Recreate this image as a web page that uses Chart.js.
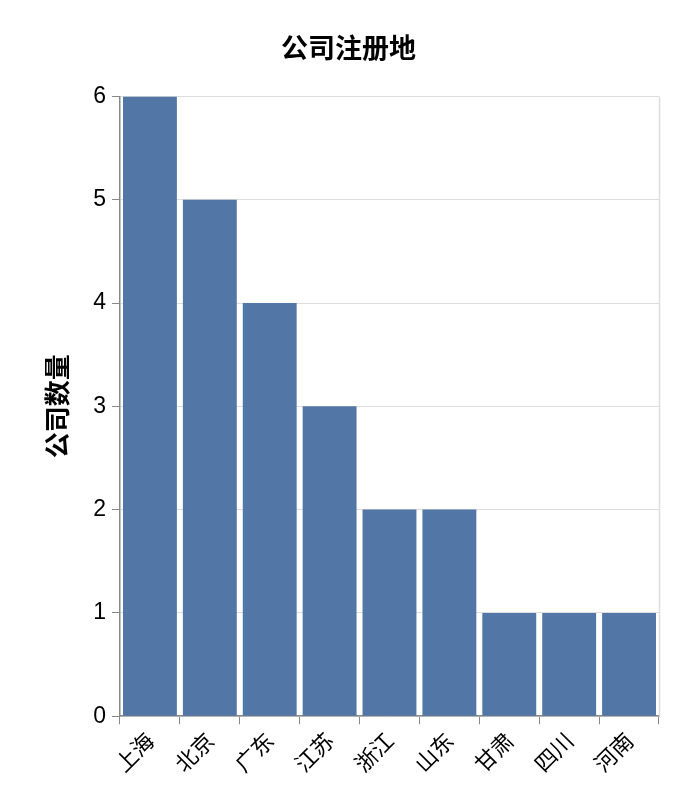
<!DOCTYPE html>
<html><head><meta charset="utf-8">
<script src="https://cdn.jsdelivr.net/npm/chart.js@4"></script>
<style>html,body{margin:0;padding:0;background:#fff}#w{width:684px;height:794px}</style>
</head><body><div id="w"><canvas id="c"></canvas></div>
<script>
const categories=["上海","北京","广东","江苏","浙江","山东","甘肃","四川","河南"];
const values=[6,5,4,3,2,2,1,1,1];
const yTicks=[0,1,2,3,4,5,6];
const F='"Noto Sans CJK SC", "Noto Sans", sans-serif';
const border={id:'border',afterDraw(ch){const a=ch.chartArea,x=ch.ctx;x.save();x.strokeStyle='#ddd';x.lineWidth=1.5;x.beginPath();x.moveTo(a.right+0.5,a.top);x.lineTo(a.right+0.5,a.bottom);x.stroke();x.restore();}};
new Chart(document.getElementById('c'),{type:'bar',
data:{labels:categories,datasets:[{data:values,backgroundColor:'#5277a6',barPercentage:0.9,categoryPercentage:1}]},
options:{responsive:true,maintainAspectRatio:false,animation:false,
layout:{padding:{top:0,right:25,left:38,bottom:14}},
plugins:{legend:{display:false},tooltip:{enabled:false},
title:{display:true,text:'公司注册地',font:{family:F,size:27,weight:'bold'},color:'#000',padding:{top:32,bottom:32}}},
scales:{
x:{grid:{drawOnChartArea:false,drawTicks:true,tickColor:'#888',tickLength:8},border:{color:'#888',width:1.5},ticks:{color:'#000',font:{family:F,size:22},maxRotation:45,minRotation:45}},
y:{min:0,max:6,afterBuildTicks(s){s.ticks=yTicks.map(v=>({value:v}));},
grid:{color:'#ddd',tickColor:'#888',tickLength:8},border:{color:'#888',width:1.5},
ticks:{color:'#000',font:{family:'"Liberation Sans", sans-serif',size:23},padding:6},
title:{display:true,text:'公司数量',color:'#000',font:{family:F,size:26,weight:'bold'},padding:{bottom:14}}}}},
plugins:[border]});
</script></body></html>
